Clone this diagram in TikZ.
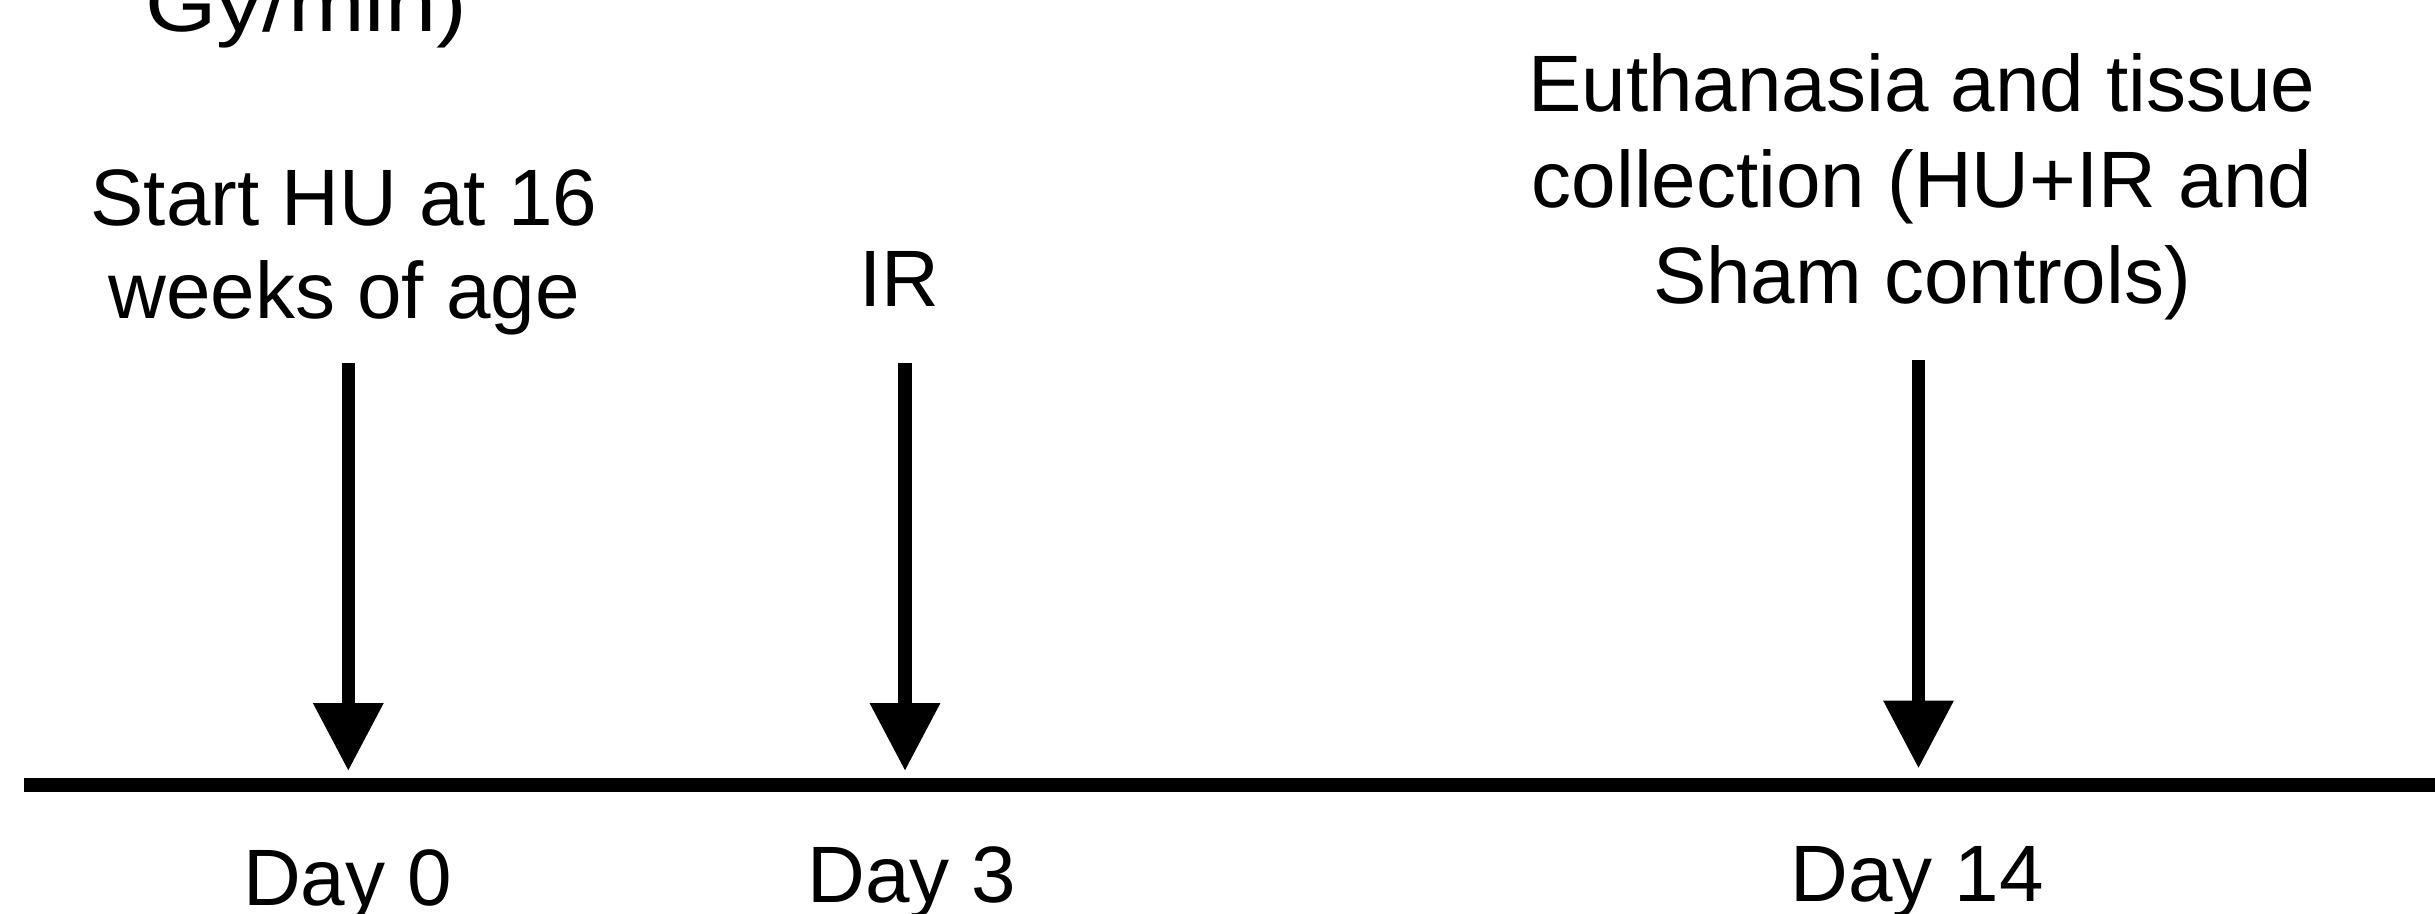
\documentclass[tikz,border=0pt]{standalone}
\usepackage{fontspec}
\setmainfont{Liberation Sans}
\usetikzlibrary{arrows.meta}

\tikzset{
  lbl/.style={inner sep=0pt, anchor=base, align=center, font=\fontsize{80}{93}\selectfont},
  lblwide/.style={lbl, font=\fontsize{80}{96}\selectfont},
  evarrow/.style={line width=13.3pt, -{Triangle[width=67pt, length=68pt]}},
  axisline/.style={line width=13.3pt}
}

\begin{document}
\begin{tikzpicture}[x=1pt, y=-1pt]
  \clip (0,0) rectangle (2435,913);
  \fill[white] (0,0) rectangle (2435,913);

  % event labels above the timeline (base = baseline of the last line)
  \node[lbl] (dose) at (306,31) {\scalebox{1.15}[1]{Gy/min)}};
  \node[lbl] (start) at (344,318) {Start HU at 16\\weeks of age};
  \node[lbl] (ir) at (899,306) {IR};
  \node[lblwide] (euth) at (1922,303) {Euthanasia and tissue\\collection (HU+IR and\\Sham controls)};

  % timeline axis
  \coordinate (axisL) at (24,785);
  \coordinate (axisR) at (2435,785);
  \draw[axisline] (axisL) -- (axisR);

  % arrows pointing onto the timeline
  \coordinate (a0top) at (348.3,363);
  \coordinate (a0tip) at (348.3,771);
  \coordinate (a3top) at (905,363);
  \coordinate (a3tip) at (905,771);
  \coordinate (a14top) at (1918.5,360);
  \coordinate (a14tip) at (1918.5,768.5);
  \draw[evarrow] (a0top) -- (a0tip);
  \draw[evarrow] (a3top) -- (a3tip);
  \draw[evarrow] (a14top) -- (a14tip);

  % day labels below the timeline
  \node[lbl] (d0) at (347.5,905) {Day 0};
  \node[lbl] (d3) at (912,902) {Day 3};
  \node[lbl] (d14) at (1917,901) {Day 14};
\end{tikzpicture}
\end{document}
